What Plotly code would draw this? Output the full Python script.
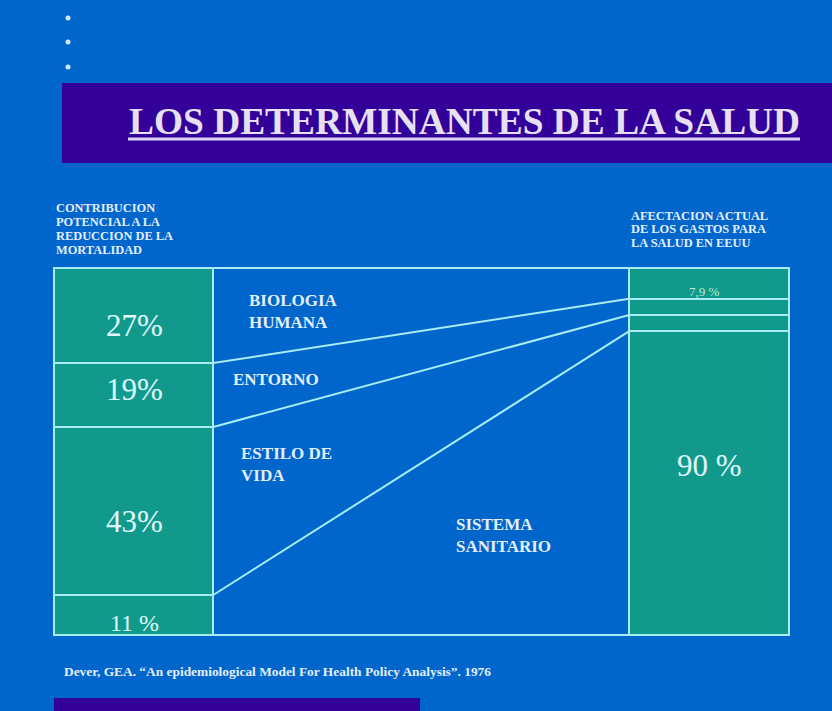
import plotly.graph_objects as go

# ---------------- data ----------------
segments = ["SISTEMA SANITARIO", "ESTILO DE VIDA", "ENTORNO", "BIOLOGIA HUMANA"]  # bottom -> top
left_share = [10.9, 45.8, 17.4, 25.9]    # drawn heights, left column (mortality contribution)
right_share = [82.8, 4.4, 4.4, 8.4]      # drawn heights, right column (health spending)
left_labels = ["11 %", "43%", "19%", "27%"]
right_labels = ["90 %", "", "", "7,9 %"]
left_header = ["CONTRIBUCION", "POTENCIAL A LA", "REDUCCION DE LA", "MORTALIDAD"]
right_header = ["AFECTACION ACTUAL", "DE LOS GASTOS PARA", "LA SALUD EN EEUU"]
columns = [0, 1]

W, H = 832, 711
BG = "#0066cc"
PURPLE = "#330099"
TEAL = "#119a8b"
EDGE = "#a8ecf4"
TXT = "#e4eeff"
SERIF = "Liberation Serif, Times New Roman, serif"


def px(x):
    return x / W


def py(y):
    return 1 - y / H


# geometry of the diagram (pixels)
L0, L1, R0, R1 = 54, 213, 629, 789
TOP, BOT = 268, 635
unit_x = ((R0 + R1) / 2 - (L0 + L1) / 2)
bar_w = (L1 - L0 + R1 - R0) / 2 / unit_x
cx0 = (L0 + L1) / 2
unit_y = (BOT - TOP) / 100.0

fig = go.Figure()
for name, lv, rv in zip(segments, left_share, right_share):
    fig.add_trace(go.Bar(
        x=columns, y=[lv, rv], width=bar_w, name=name,
        marker=dict(color=TEAL, line=dict(color=EDGE, width=2)),
        hoverinfo="skip", showlegend=False))

# connecting lines between cumulative boundaries
lc, rc = [0.0], [0.0]
for lv, rv in zip(left_share, right_share):
    lc.append(lc[-1] + lv)
    rc.append(rc[-1] + rv)
for a, b in zip(lc, rc):
    fig.add_trace(go.Scatter(
        x=[bar_w / 2, 1 - bar_w / 2], y=[a, b], mode="lines",
        line=dict(color=EDGE, width=2), hoverinfo="skip", showlegend=False))

dx0, dx1 = 52, 791
dy0, dy1 = 266, 637
fig.update_xaxes(visible=False, range=[(dx0 - cx0) / unit_x, (dx1 - cx0) / unit_x],
                 domain=[px(dx0), px(dx1)], fixedrange=True)
fig.update_yaxes(visible=False, range=[(BOT - dy1) / unit_y, (BOT - dy0) / unit_y],
                 domain=[py(dy1), py(dy0)], fixedrange=True)

shapes = [
    dict(type="rect", xref="paper", yref="paper", x0=px(62), x1=px(832), y0=py(163), y1=py(83),
         fillcolor=PURPLE, line=dict(width=0), layer="below"),
    dict(type="line", xref="paper", yref="paper", x0=px(128), x1=px(800), y0=py(139), y1=py(139),
         line=dict(color="#dcd4f0", width=3)),
    dict(type="rect", xref="paper", yref="paper", x0=px(54), x1=px(420), y0=py(711), y1=py(698),
         fillcolor=PURPLE, line=dict(width=0), layer="below"),
]
for by in [18, 42, 67]:
    shapes.append(dict(type="circle", xref="paper", yref="paper",
                       x0=px(65.5), x1=px(70.5), y0=py(by + 2.5), y1=py(by - 2.5),
                       fillcolor="#d4e6ff", line=dict(width=0)))

ann = []


def add(text, x, y, size, color=TXT, bold=False, xanchor="left", yanchor="middle"):
    t = f"<b>{text}</b>" if bold else text
    ann.append(dict(text=t, x=px(x), y=py(y), xref="paper", yref="paper", showarrow=False,
                    xanchor=xanchor, yanchor=yanchor, align="left", borderpad=0,
                    font=dict(family=SERIF, size=size, color=color)))


add("LOS DETERMINANTES DE LA SALUD", 464, 121, 37.4, "#e6e0f2", True, "center")
for i, line in enumerate(left_header):
    add(line, 55, 208 + 14 * i, 12.4, TXT, True)
for i, line in enumerate(right_header):
    add(line, 630, 215.5 + 13.5 * i, 12.4, TXT, True)

# percentages in bars
lab_y_left = [623, 521, 389, 325]
for t, yy in zip(left_labels, lab_y_left):
    add(t, 134, yy, 31 if t != "11 %" else 24, "#e0fbff", False, "center")
add(right_labels[3], 704, 291, 13, "#b8ecd4", False, "center")
add(right_labels[0], 709, 466, 31, "#e0fbff", False, "center")

# segment names
add("BIOLOGIA<br>HUMANA", 248, 311, 17, TXT, True)
add("ENTORNO", 232, 380, 17, TXT, True)
add("ESTILO DE<br>VIDA", 240, 464.5, 17, TXT, True)
add("SISTEMA<br>SANITARIO", 455, 535.5, 17, TXT, True)

add("Dever, GEA. \u201cAn epidemiological Model For Health Policy Analysis\u201d. 1976", 63, 671, 13.4, TXT, True)

fig.update_layout(
    width=W, height=H, autosize=False, barmode="stack", bargap=0,
    margin=dict(l=0, r=0, t=0, b=0),
    paper_bgcolor=BG, plot_bgcolor=BG,
    shapes=shapes, annotations=ann,
)
fig.write_html("out.html", config={"displayModeBar": False},
               post_script="document.body.style.margin='0';document.body.style.background='#0066cc';")
